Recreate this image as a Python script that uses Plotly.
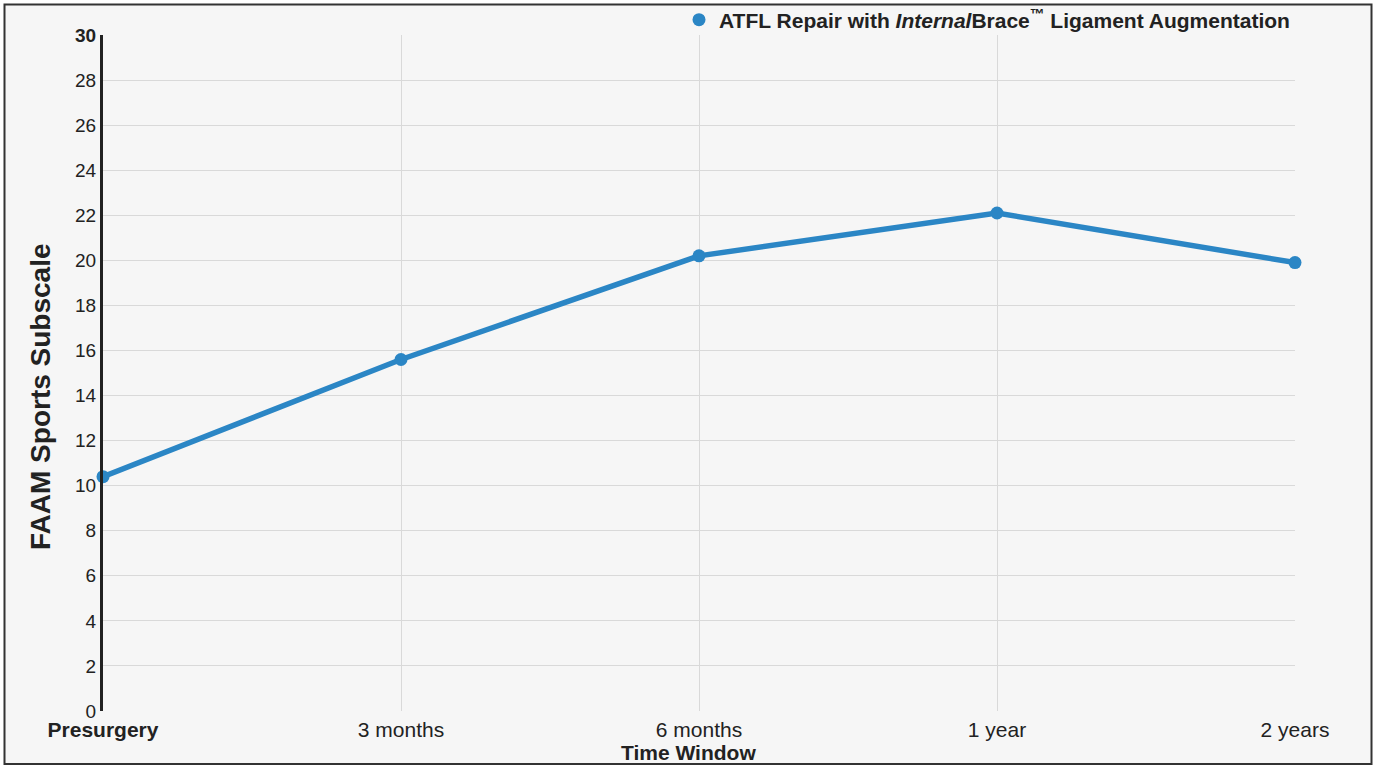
import plotly.graph_objects as go

categories = ["Presurgery", "3 months", "6 months", "1 year", "2 years"]
tick_labels = ["<b>Presurgery</b>", "3 months", "6 months", "1 year", "2 years"]
faam_sports = [10.4, 15.6, 20.2, 22.1, 19.9]
y_ticks = list(range(0, 31, 2))
y_tick_labels = [("<b>%d</b>" % v) if v == 30 else str(v) for v in y_ticks]
series_name = "<b>ATFL Repair with <i>Internal</i>Brace<sup>™</sup> Ligament Augmentation</b>"

BLUE = "#2b86c5"
BG = "#f6f6f6"
FONT = "Liberation Sans, Arial, sans-serif"

fig = go.Figure()
fig.add_trace(go.Scatter(
    x=categories, y=faam_sports, mode="lines+markers",
    line=dict(color=BLUE, width=5.5), marker=dict(color=BLUE, size=13),
    showlegend=False, cliponaxis=False,
))
fig.add_trace(go.Scatter(
    x=[None], y=[None], mode="markers", name=series_name,
    marker=dict(color=BLUE, size=13), showlegend=True,
))

W, H = 1375, 765
L, R, T, B = 103, 80, 35, 54
pw, ph = W - L - R, H - T - B

def px_x(p):
    return (p - L) / pw

def px_y(p):
    return (H - B - p) / ph

fig.update_layout(
    width=W, height=H,
    margin=dict(l=L, r=R, t=T, b=B, autoexpand=False),
    paper_bgcolor="white", plot_bgcolor=BG,
    font=dict(family=FONT, color="#222", size=19),
    xaxis=dict(
        type="category", categoryorder="array", categoryarray=categories,
        range=[0, 4], tickvals=categories, ticktext=tick_labels,
        showgrid=True, gridcolor="#d9d9d9", gridwidth=1,
        showline=False, zeroline=False, ticks="",
        ticklabelstandoff=4,
        tickfont=dict(size=21, color="#222"),
    ),
    yaxis=dict(
        range=[0, 30], tickvals=y_ticks, ticktext=y_tick_labels,
        showgrid=True, gridcolor="#d9d9d9", gridwidth=1,
        showline=True, linecolor="#222", linewidth=3,
        zeroline=False, ticks="",
        tickfont=dict(size=19, color="#222"),
    ),
    legend=dict(
        orientation="h", x=1.0, xanchor="right", y=px_y(20), yanchor="middle",
        font=dict(size=21, color="#222"), bgcolor="rgba(0,0,0,0)",
        itemwidth=30,
    ),
    shapes=[dict(
        type="rect", xref="paper", yref="paper", layer="below",
        x0=px_x(4.5), x1=px_x(1371.5), y0=px_y(764), y1=px_y(4.5),
        line=dict(color="#333", width=2), fillcolor=BG,
    )],
    annotations=[
        dict(text="<b>FAAM Sports Subscale</b>", xref="paper", yref="paper",
             x=px_x(40), y=px_y(397), textangle=-90, showarrow=False,
             xanchor="center", yanchor="middle",
             font=dict(size=28, color="#222")),
        dict(text="<b>Time Window</b>", xref="paper", yref="paper",
             x=px_x(688), y=px_y(752), showarrow=False,
             xanchor="center", yanchor="middle",
             font=dict(size=21, color="#222")),
    ],
)

fig.write_html("out.html", config={"displayModeBar": False},
               post_script="document.body.style.margin='0';")
